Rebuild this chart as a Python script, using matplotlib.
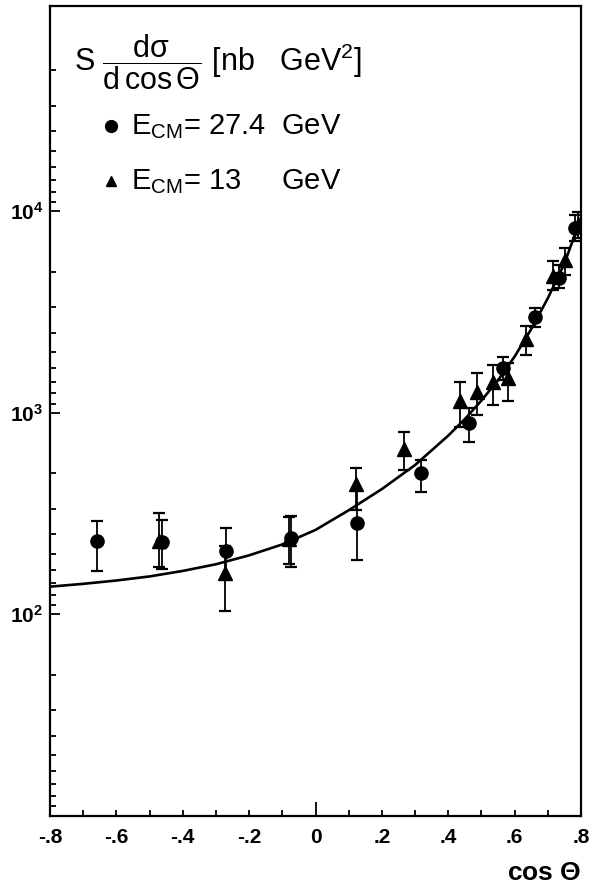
import numpy as np
import matplotlib
matplotlib.use("Agg")
from matplotlib import pyplot as plt
from matplotlib.ticker import FixedLocator, NullFormatter, FixedFormatter

plt.rcParams['font.family'] = ['Liberation Sans', 'DejaVu Sans']
plt.rcParams['mathtext.fontset'] = 'custom'
plt.rcParams['mathtext.rm'] = 'Liberation Sans'
plt.rcParams['mathtext.it'] = 'Liberation Sans'
plt.rcParams['mathtext.sf'] = 'Liberation Sans'

# E_CM = 27.4 GeV (circles)
cos27 = [-0.659, -0.462, -0.270, -0.074, 0.125, 0.319, 0.463, 0.564, 0.662, 0.735, 0.782]
sig27 = [231, 229, 206, 238, 284, 500, 886, 1660, 2995, 4645, 8225]
up27 = [291, 293, 269, 308, 413, 582, 1052, 1897, 3298, 5406, 9578]
lo27 = [163, 167, 149, 172, 186, 404, 713, 1453, 2654, 4143, 7112]

# E_CM = 13 GeV (triangles)
cos13 = [-0.471, -0.272, -0.080, 0.122, 0.267, 0.435, 0.486, 0.536, 0.579, 0.633, 0.716, 0.752, 0.790]
sig13 = [231, 161, 236, 443, 658, 1147, 1267, 1425, 1492, 2314, 4767, 5725, 8541]
up13 = [317, 219, 303, 532, 799, 1416, 1579, 1725, 1771, 2704, 5680, 6592, 9910]
lo13 = [171, 104, 178, 329, 519, 852, 971, 1088, 1143, 1933, 4064, 4825, 7400]

# theory curve
cos_th = [-0.8, -0.7, -0.6, -0.5, -0.4, -0.3, -0.2, -0.1, 0.0, 0.1, 0.2, 0.3,
          0.4, 0.45, 0.5, 0.55, 0.6, 0.65, 0.7, 0.75, 0.8]
sig_th = [137, 141.5, 147, 154, 164, 177, 196, 222, 262, 328, 418, 550,
          770, 930, 1150, 1450, 1900, 2600, 3700, 5500, 9300]

xticks = [-0.8, -0.6, -0.4, -0.2, 0, 0.2, 0.4, 0.6, 0.8]
xlabels = ['-.8', '-.6', '-.4', '-.2', '0', '.2', '.4', '.6', '.8']
xminor = [-0.7, -0.5, -0.3, -0.1, 0.1, 0.3, 0.5, 0.7]
ymajor = [1e2, 1e3, 1e4]
ylabels = [r'$\mathregular{10^2}$', r'$\mathregular{10^3}$', r'$\mathregular{10^4}$']

fig = plt.figure(figsize=(6.01, 8.86), dpi=100)
ax = fig.add_axes([50/601, 1 - 815.7/886, 531/601, 810.2/886])

ax.plot(cos_th, sig_th, color='black', lw=1.9, solid_capstyle='round')

def yerr(s, lo, up):
    s = np.array(s); return [s - np.array(lo), np.array(up) - s]

ax.errorbar(cos27, sig27, yerr=yerr(sig27, lo27, up27), fmt='o', color='black',
            ms=9.5, elinewidth=1.3, capsize=4.5, capthick=1.6)
ax.errorbar(cos13, sig13, yerr=yerr(sig13, lo13, up13), fmt='^', color='black',
            ms=9.5, elinewidth=1.3, capsize=4.5, capthick=1.6)

ax.set_yscale('log')
ax.set_xlim(-0.8, 0.8)
ax.set_ylim(10, 1.05e5)

# minor ticks of this old plot run the other way round inside each decade
yminor = []
for d in range(1, 5):
    for k in range(2, 10):
        yminor.append(10.0 ** (d + 1) / k)
ax.yaxis.set_major_locator(FixedLocator(ymajor))
ax.yaxis.set_major_formatter(FixedFormatter(ylabels))
ax.yaxis.set_minor_locator(FixedLocator(yminor))
ax.yaxis.set_minor_formatter(NullFormatter())

ax.set_xticks(xticks)
ax.set_xticklabels(xlabels)
ax.set_xticks(xminor, minor=True)

ax.tick_params(axis='y', which='major', direction='in', length=7.5, width=1.3,
               labelsize=15, pad=5)
ax.tick_params(axis='y', which='minor', direction='in', length=4, width=1.3)
ax.tick_params(axis='x', which='both', direction='in', length=4.5, width=1.3,
               labelsize=15, pad=9)
ax.xaxis.get_major_ticks()[4].tick1line.set_markersize(10)
for lab in ax.get_xticklabels() + ax.get_yticklabels():
    lab.set_fontweight('bold')

for sp in ax.spines.values():
    sp.set_linewidth(1.6)

ax.text(1.0, -0.0707, r'cos $\mathregular{\Theta}$', transform=ax.transAxes,
        ha='right', va='center', fontsize=19, fontweight='bold')

ax.text(0.045, 0.93, r'S $\mathregular{\dfrac{d\sigma}{d\,cos\,\Theta}}$ [nb   GeV$\mathregular{^2}$]',
        transform=ax.transAxes, ha='left', va='center', fontsize=22)

ax.plot([0.115], [0.851], marker='o', ms=8.5, color='black', transform=ax.transAxes, clip_on=False)
ax.plot([0.115], [0.783], marker='^', ms=7.5, color='black', transform=ax.transAxes, clip_on=False)
ax.text(0.153, 0.851, r'E$\mathregular{_{CM}}$= 27.4  GeV', transform=ax.transAxes,
        ha='left', va='center', fontsize=21)
ax.text(0.153, 0.783, r'E$\mathregular{_{CM}}$= 13     GeV', transform=ax.transAxes,
        ha='left', va='center', fontsize=21)

fig.savefig('out.png', dpi=100)
